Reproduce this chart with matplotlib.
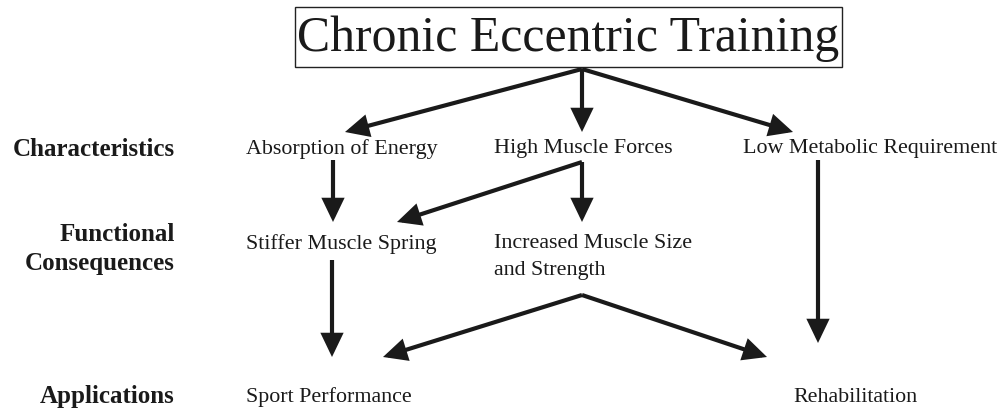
import matplotlib
matplotlib.use("Agg")
import matplotlib.pyplot as plt
from matplotlib.patches import FancyArrowPatch, Rectangle

# --- Content ---
title = "Chronic Eccentric Training"
row_labels = ["Characteristics", "Functional\nConsequences", "Applications"]
characteristics = ["Absorption of Energy", "High Muscle Forces", "Low Metabolic Requirement"]
consequences = ["Stiffer Muscle Spring", "Increased Muscle Size\nand Strength"]
applications = ["Sport Performance", "Rehabilitation"]

# --- Layout (pixel coords, y down) ---
W, H = 1001, 409
row_label_x = 175
row_label_y = [149, 249, 397]
char_pos = [(246, 149), (494, 149), (743, 149)]
cons_pos = [(246, 244), (494, 257)]
app_pos = [(246, 397), (793, 397)]
box = (295, 7, 842, 67)
apex = (582, 69)
# arrows: (start, end)
arrows = [
    (apex, (345, 132)),
    (apex, (582, 132)),
    (apex, (793, 132)),
    ((333, 160), (333, 222)),
    ((582, 162), (397, 222)),
    ((582, 162), (582, 222)),
    ((332, 260), (332, 357)),
    ((582, 295), (383, 357)),
    ((582, 295), (767, 357)),
    ((818, 160), (818, 343)),
]

plt.rcParams['font.family'] = ['Liberation Serif', 'DejaVu Serif']

fig = plt.figure(figsize=(W / 100, H / 100), dpi=100)
ax = fig.add_axes([0, 0, 1, 1])
ax.set_xlim(0, W)
ax.set_ylim(H, 0)
ax.axis("off")

fs = 15.8
ink = "#1a1a1a"

# title box
x0, y0, x1, y1 = box
ax.add_patch(Rectangle((x0, y0), x1 - x0, y1 - y0, fill=False, edgecolor="#222222", linewidth=1.0))
ax.text((x0 + x1) / 2, (y0 + y1) / 2 + 2, title, fontsize=35.8, ha="center", va="center", color=ink)

# row labels
for lab, y in zip(row_labels, row_label_y):
    ax.text(row_label_x, y, lab, fontsize=18, fontweight="bold", ha="right", va="center",
            color=ink, linespacing=1.3)

# node texts
for lab, (x, y) in zip(characteristics, char_pos):
    ax.text(x, y, lab, fontsize=fs, ha="left", va="center", color=ink)
for lab, (x, y) in zip(consequences, cons_pos):
    ax.text(x, y, lab, fontsize=fs, ha="left", va="center", color=ink, linespacing=1.5)
for lab, (x, y) in zip(applications, app_pos):
    ax.text(x, y, lab, fontsize=fs, ha="left", va="center", color=ink)

# arrows
for s, e in arrows:
    ax.add_patch(FancyArrowPatch(s, e, arrowstyle="-|>,head_length=1.25,head_width=0.6",
                                 mutation_scale=10, color=ink, linewidth=3,
                                 shrinkA=0, shrinkB=0, joinstyle="miter", capstyle="butt"))

fig.savefig("out.png", dpi=100)
